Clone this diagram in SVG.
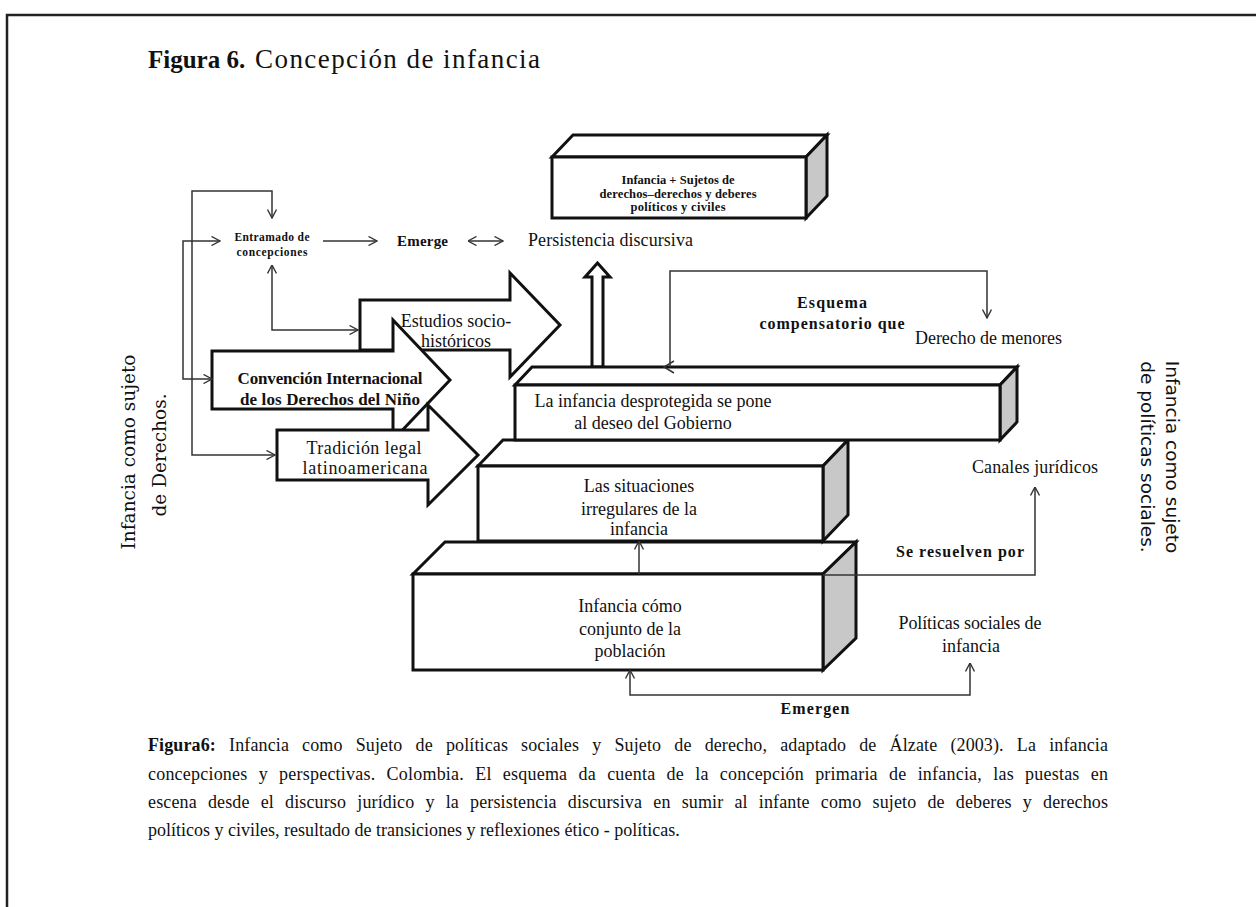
<svg xmlns="http://www.w3.org/2000/svg" width="1256" height="907" viewBox="0 0 1256 907">
<defs>
<style>
.t{font-family:"Liberation Serif","Times New Roman",serif;fill:#111}
.b{font-weight:bold}
.c{text-anchor:middle}
.shape{fill:#fff;stroke:#111;stroke-width:3;stroke-linejoin:miter}
.side{fill:#c8c8c8;stroke:#111;stroke-width:3;stroke-linejoin:miter}
.ln{fill:none;stroke:#333;stroke-width:1.5}
.rs{font-family:"DejaVu Serif",serif;font-size:18.5px;fill:#111;text-anchor:middle}
.rn{font-family:"DejaVu Sans",sans-serif;font-size:18.5px;fill:#111;text-anchor:middle}
</style>
<marker id="ah" viewBox="0 0 10 10" refX="9.5" refY="5" markerWidth="10" markerHeight="10" markerUnits="userSpaceOnUse" orient="auto-start-reverse"><path d="M1,0.5 L9.5,5 L1,9.5" fill="none" stroke="#333" stroke-width="1.4"/></marker>
</defs>
<rect width="1256" height="907" fill="#fff"/>
<path d="M7,907 V15 H1256" fill="none" stroke="#222" stroke-width="2.5"/>
<text class="t" x="148" y="68" font-size="25"><tspan class="b">Figura 6.</tspan><tspan x="255" font-size="27" textLength="285" lengthAdjust="spacing">Concepción de infancia</tspan></text>

<g id="box-top">
<polygon class="shape" points="552,157 573,135 827,135 806,157"/>
<polygon class="side" points="806,157 827,135 827,196 806,218"/>
<rect class="shape" x="552" y="157" width="254" height="61"/>
<text class="t b c" font-size="12.5" x="678" y="184" textLength="113">Infancia + Sujetos de</text>
<text class="t b c" font-size="12.5" x="678" y="198" textLength="157">derechos–derechos y deberes</text>
<text class="t b c" font-size="12.5" x="678" y="211" textLength="95">políticos y civiles</text>
</g>

<g id="estudios">
<path class="shape" d="M360,350 V300 H510 V273 L560,325 L510,377 V350 Z"/>
</g>
<g id="convencion">
<path class="shape" d="M212,351 H393 V320 L450,380 L393,440 V409 H212 Z"/>
</g>
<g id="tradicion">
<path class="shape" d="M277,430 H428 V405 L478,455 L428,505 V480 H277 Z"/>
</g>
<g id="arrow-texts">
<text class="t c" font-size="18" x="456" y="327">Estudios socio-</text>
<text class="t c" font-size="18" x="456" y="347">históricos</text>
<text class="t b c" font-size="17" x="330" y="384" textLength="185">Convención Internacional</text>
<text class="t b c" font-size="17" x="330" y="405" textLength="180">de los Derechos del Niño</text>
<text class="t c" font-size="18" x="364" y="454" textLength="115">Tradición legal</text>
<text class="t c" font-size="18" x="365" y="474" textLength="125">latinoamericana</text>
</g>

<g id="entramado">
<text class="t b c" font-size="11.5" x="272" y="241" textLength="75">Entramado de</text>
<text class="t b c" font-size="11.5" x="272" y="256" textLength="71">concepciones</text>
</g>
<g id="emerge">
<text class="t b" font-size="15" x="397" y="246" textLength="51">Emerge</text>
</g>
<g id="persistencia">
<text class="t" font-size="18" x="528" y="246" textLength="165">Persistencia discursiva</text>
</g>
<g id="hollow-arrow">
<path class="shape" stroke-width="2.5" d="M592,367 V277 H585 L597.5,263 L610,277 H603 V367 Z"/>
</g>

<g id="box1">
<polygon class="shape" points="413,574 445,542 856,542 823,574"/>
<polygon class="side" points="823,574 856,542 856,638 823,670"/>
<rect class="shape" x="413" y="574" width="410" height="96"/>
<text class="t c" font-size="18" x="630" y="612">Infancia cómo</text>
<text class="t c" font-size="18" x="630" y="635">conjunto de la</text>
<text class="t c" font-size="18" x="630" y="657">población</text>
</g>
<g id="box2">
<polygon class="shape" points="478,466 503,440 848,440 823,466"/>
<polygon class="side" points="823,466 848,440 848,515 823,541"/>
<rect class="shape" x="478" y="466" width="345" height="75"/>
<text class="t c" font-size="18" x="639" y="492">Las situaciones</text>
<text class="t c" font-size="18" x="639" y="515">irregulares de la</text>
<text class="t c" font-size="18" x="639" y="535">infancia</text>
</g>
<g id="box3">
<polygon class="shape" points="515,385 532,367 1017,367 1000,385"/>
<polygon class="side" points="1000,385 1017,367 1017,422 1000,440"/>
<rect class="shape" x="515" y="385" width="485" height="55"/>
<text class="t c" font-size="18" x="653" y="407">La infancia desprotegida se pone</text>
<text class="t c" font-size="18" x="653" y="429">al deseo del Gobierno</text>
</g>

<g id="labels">
<text class="t b c" font-size="16" x="832" y="308" textLength="70">Esquema</text>
<text class="t b c" font-size="16" x="832" y="329" textLength="145">compensatorio que</text>
<text class="t" font-size="18" x="915" y="344" textLength="147">Derecho de menores</text>
<text class="t" font-size="18" x="972" y="473" textLength="126">Canales jurídicos</text>
<text class="t b" font-size="16" x="896" y="557" textLength="128">Se resuelven por</text>
<text class="t c" font-size="18" x="970" y="629" textLength="143">Políticas sociales de</text>
<text class="t c" font-size="18" x="971" y="652">infancia</text>
<text class="t b c" font-size="16" x="815" y="714" textLength="69">Emergen</text>
</g>

<g id="connectors">
<path class="ln" d="M212,379 H183 V241 H220" marker-start="url(#ah)" marker-end="url(#ah)"/>
<path class="ln" d="M275,455 H192 V191 H272 V218" marker-start="url(#ah)" marker-end="url(#ah)"/>
<path class="ln" d="M272,265 V330 H358" marker-start="url(#ah)" marker-end="url(#ah)"/>
<path class="ln" d="M323,241 H377" marker-end="url(#ah)"/>
<path class="ln" d="M468,241 H503" marker-start="url(#ah)" marker-end="url(#ah)"/>
<path class="ln" d="M987,318 V271 H670 V367" marker-start="url(#ah)"/>
<path class="ln" d="M674,361 L664,367 L674,373"/>
<path class="ln" d="M639,574 V541" marker-end="url(#ah)"/>
<path class="ln" d="M823,575 H1035 V487" marker-end="url(#ah)"/>
<path class="ln" d="M630,670 V695 H970 V663" marker-start="url(#ah)" marker-end="url(#ah)"/>
</g>

<g id="side-labels">
<text class="rs" transform="translate(135,452) rotate(-90)">Infancia como sujeto</text>
<text class="rs" transform="translate(166,455) rotate(-90)">de Derechos.</text>
<text class="rn" transform="translate(1166,457) rotate(90)">Infancia como sujeto</text>
<text class="rn" transform="translate(1141,457) rotate(90)">de políticas sociales.</text>
</g>

<g id="caption">
<text class="t" font-size="18" x="148" y="751" word-spacing="8.5" textLength="960" lengthAdjust="spacing"><tspan class="b">Figura6:</tspan> Infancia como Sujeto de políticas sociales y Sujeto de derecho, adaptado de Álzate (2003). La infancia</text>
<text class="t" font-size="18" x="148" y="780" word-spacing="6.5" textLength="960" lengthAdjust="spacing">concepciones y perspectivas. Colombia. El esquema da cuenta de la concepción primaria de infancia, las puestas en</text>
<text class="t" font-size="18" x="148" y="808" word-spacing="6.5" textLength="960" lengthAdjust="spacing">escena desde el discurso jurídico y la persistencia discursiva en sumir al infante como sujeto de deberes y derechos</text>
<text class="t" font-size="18" x="148" y="836">políticos y civiles, resultado de transiciones y reflexiones ético - políticas.</text>
</g>
</svg>
